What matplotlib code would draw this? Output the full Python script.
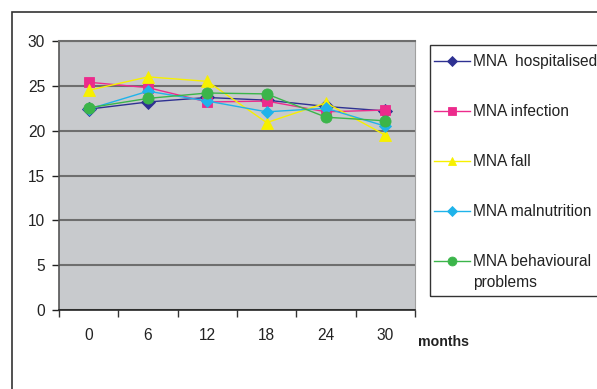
import matplotlib
matplotlib.use("Agg")
import matplotlib.pyplot as plt
from matplotlib.patches import Rectangle
import numpy as np

plt.rcParams['font.family'] = ['Liberation Sans', 'DejaVu Sans']

months = ['0', '6', '12', '18', '24', '30']
hospitalised = [22.4, 23.2, 23.7, 23.4, 22.7, 22.2]
infection = [25.4, 24.8, 23.2, 23.3, 22.1, 22.3]
fall = [24.5, 26.0, 25.5, 20.9, 23.1, 19.5]
malnutrition = [22.4, 24.4, 23.3, 22.1, 22.5, 20.5]
behavioural = [22.55, 23.6, 24.2, 24.1, 21.5, 21.1]

series = [
    ('MNA  hospitalised', hospitalised, '#2e3192', 'D', 7),
    ('MNA infection', infection, '#ec2b8c', 's', 7),
    ('MNA fall', fall, '#f7f000', '^', 8),
    ('MNA malnutrition', malnutrition, '#1fb3ea', 'D', 6.5),
    ('MNA behavioural', behavioural, '#3bb54a', 'o', 8),
]
fs = 11.2

fig = plt.figure(figsize=(5.97, 3.89), dpi=100)
fig.patches.append(Rectangle((12 / 597, -0.1), 1.2, 1 - 12 / 389 + 0.1,
                             transform=fig.transFigure, fill=False,
                             edgecolor='#333333', linewidth=1.2))

ax = fig.add_axes([59 / 597, 1 - 310 / 389, 356 / 597, 269 / 389])
ax.set_facecolor('#c8cacd')
x = np.arange(len(months))

handles = []
for label, vals, color, marker, ms in series:
    h, = ax.plot(x, vals, color=color, marker=marker, markersize=ms,
                 linewidth=1.0, label=label, markeredgewidth=0.6,
                 markeredgecolor=color)
    handles.append(h)

ax.set_xlim(-0.5, 5.5)
ax.set_ylim(0, 30)
ax.set_yticks(range(0, 31, 5))
ax.yaxis.grid(True, color='#6e6e6e', linewidth=1.5)
ax.set_axisbelow(True)

ax.set_xticks(x)
ax.set_xticklabels(months)
ax.set_xticks(np.arange(-0.5, 6, 1), minor=True)
ax.tick_params(axis='x', which='major', length=0, pad=13, labelsize=fs,
               colors='#222222')
ax.tick_params(axis='x', which='minor', length=5, width=1, color='#333333')
ax.tick_params(axis='y', length=5, width=1, labelsize=fs, pad=5,
               colors='#222222')

ax.spines['left'].set_color('#555555')
ax.spines['left'].set_linewidth(1.2)
ax.spines['bottom'].set_color('#222222')
ax.spines['bottom'].set_linewidth(1.2)
ax.spines['right'].set_color('#a0a0a0')
ax.spines['top'].set_color('#6e6e6e')
ax.spines['top'].set_linewidth(1.5)

fig.text(418 / 597, 1 - 342 / 389, 'months', fontsize=10.2, fontweight='bold',
         va='center', ha='left', color='#222222')

# legend box drawn separately so the two-line last entry fits
fig.patches.append(Rectangle((430 / 597, 1 - 296 / 389), 0.3, 251 / 389,
                             transform=fig.transFigure, fill=False,
                             edgecolor='#333333', linewidth=1.0))
leg = fig.legend(handles=handles, loc='upper left',
                 bbox_to_anchor=(421 / 597, 1 - 41 / 389),
                 frameon=False, fontsize=fs, handlelength=2.3,
                 handletextpad=0.2, labelspacing=2.25, borderpad=0.35,
                 markerscale=0.8)
fig.text(473 / 597, 1 - 283 / 389, 'problems', fontsize=fs, va='center',
         ha='left', color='#222222')
for t in leg.get_texts():
    t.set_color('#222222')

fig.savefig('out.png', dpi=100)
